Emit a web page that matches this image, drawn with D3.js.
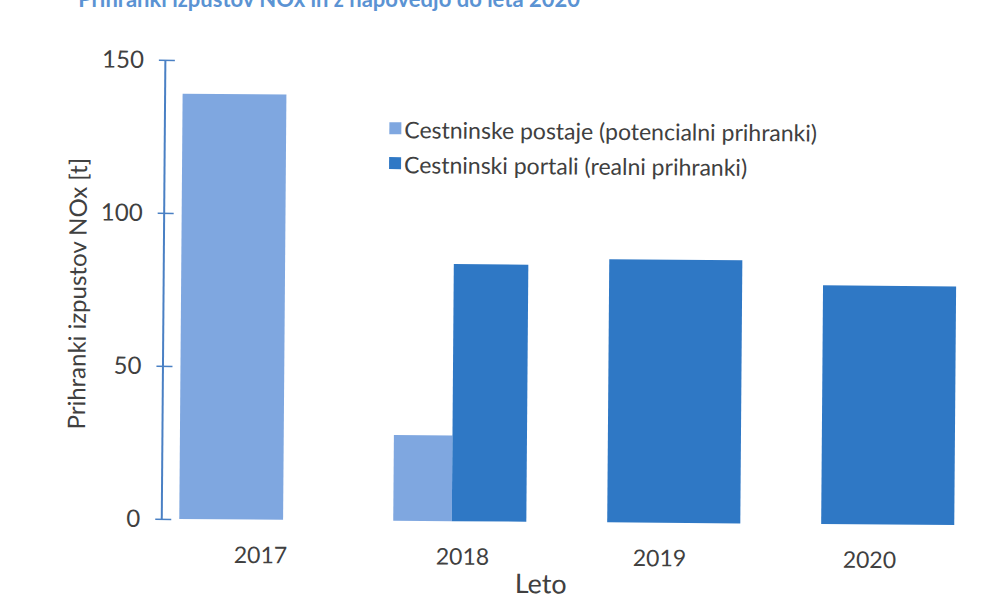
<!DOCTYPE html>
<html>
<head>
<meta charset="utf-8">
<script src="https://cdn.jsdelivr.net/npm/d3@7/dist/d3.min.js"></script>
<style>
  html, body { margin: 0; padding: 0; background: #fff; }
  svg { display: block; }
  text { font-family: Lato, "Open Sans", sans-serif; fill: #404040; }
</style>
</head>
<body>
<svg id="chart" width="997" height="613"></svg>
<script>
// Data
const years = ["2017", "2018", "2019", "2020"];
const seriesNames = ["Cestninske postaje (potencialni prihranki)", "Cestninski portali (realni prihranki)"];
const postaje = [139, 28, null, null];   // potential savings, t NOx
const portali = [null, 84, 86, 78];      // real savings, t NOx
const yTicks = [0, 50, 100, 150];
const titleText = "Prihranki izpustov NOx in z napovedjo do leta 2020";

const colors = ["#7fa7e0", "#2f78c5"];
const axisColor = "#4a80c4";

const svg = d3.select("#chart");

// Figure title along the top edge of the page
svg.append("text")
  .attr("x", 580).attr("y", 7)
  .attr("text-anchor", "end")
  .style("font-weight", "bold")
  .style("font-size", "22px")
  .style("fill", "#5b93d3")
  .text(titleText);

// Chart body, very slightly tilted
const g = svg.append("g").attr("transform", "rotate(0.45, 500, 300)");

const y = d3.scaleLinear().domain([0, 150]).range([521.5, 62.5]);
const x = d3.scaleBand().domain(years).range([181, 956]).paddingInner(0.378).paddingOuter(0);

// Y axis
const yAxis = d3.axisLeft(y).tickValues(yTicks).tickSize(0).tickPadding(21);
const ya = g.append("g").attr("transform", "translate(163,0)").call(yAxis);
ya.select(".domain").attr("stroke", axisColor).attr("stroke-width", 2);
ya.selectAll(".tick text")
  .style("font-size", "24px")
  .style("fill", "#404040")
  .style("font-family", "Lato, 'Open Sans', sans-serif");
ya.selectAll(".tick").append("line")
  .attr("x1", -6).attr("x2", 10)
  .attr("stroke", axisColor).attr("stroke-width", 1.5);

// Bars: both series share a group when present together, otherwise one bar fills it
const rows = years.map((yr, i) => ({ yr, vals: [postaje[i], portali[i]] }));
const split = 0.44;
rows.forEach(r => {
  const x0 = x(r.yr), bw = x.bandwidth();
  const both = r.vals[0] != null && r.vals[1] != null;
  r.vals.forEach((v, s) => {
    if (v == null) return;
    let bx = x0, w = bw;
    if (both) {
      bx = s === 0 ? x0 : x0 + bw * split;
      w = s === 0 ? bw * split : bw * (1 - split);
    } else if (s === 0) {
      w = bw * 0.78;
    }
    g.append("rect")
      .attr("x", bx).attr("y", y(v))
      .attr("width", w).attr("height", y(0) - y(v))
      .attr("fill", colors[s]);
  });
});

// X tick labels
const labelOffset = [15, 3, -14, -18];
years.forEach((yr, i) => {
  g.append("text")
    .attr("x", x(yr) + x.bandwidth() / 2 + labelOffset[i])
    .attr("y", 565)
    .attr("text-anchor", "middle")
    .style("font-size", "23px")
    .text(yr);
});

// Axis titles
g.append("text")
  .attr("x", 543).attr("y", 593)
  .attr("text-anchor", "middle")
  .style("font-size", "27px")
  .text("Leto");

g.append("text")
  .attr("transform", "translate(86,297) rotate(-90)")
  .attr("text-anchor", "middle")
  .style("font-size", "24px")
  .text("Prihranki izpustov NOx [t]");

// Legend
const lg = g.append("g").attr("transform", "translate(388,139)");
seriesNames.forEach((name, i) => {
  const row = lg.append("g").attr("transform", `translate(0,${i * 35})`);
  row.append("rect").attr("x", 0).attr("y", -16).attr("width", 12).attr("height", 12).attr("fill", colors[i]);
  row.append("text").attr("x", 15).attr("y", 0).style("font-size", "23px").text(name);
});
</script>
</body>
</html>
